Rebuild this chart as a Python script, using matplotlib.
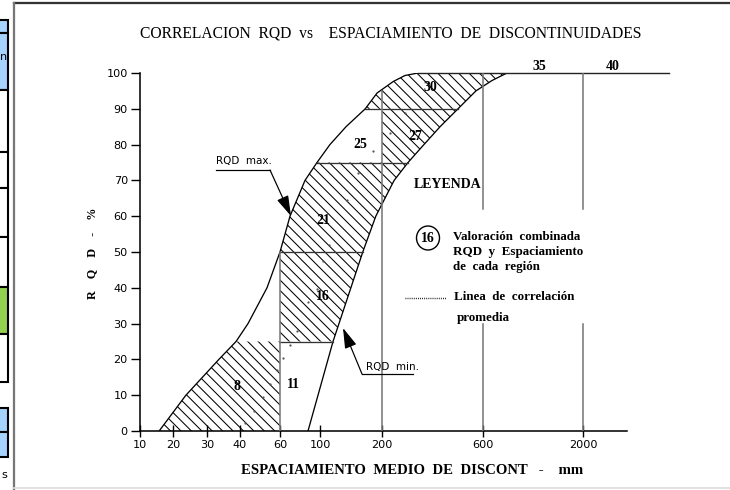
import numpy as np
import matplotlib
matplotlib.use("Agg")
import matplotlib.pyplot as plt
from matplotlib.patches import Polygon, Rectangle, Ellipse, FancyArrowPatch
from matplotlib.lines import Line2D

W, H, DPI = 730, 490, 125

# x axis of the original is neither linear nor log: tick values and where they sit (px)
x_ticks = [10, 20, 30, 40, 60, 100, 200, 600, 2000]
x_tick_px = [140, 173, 207, 240, 280, 320, 382, 483, 583]
y_ticks = list(range(0, 101, 10))

# RQD max. boundary (RQD %, spacing mm)
max_rqd = [0, 10, 20, 25, 30, 40, 50, 60, 70, 75, 80, 85, 90, 94.4, 97.6, 99.3, 100]
max_mm = [15.8, 23.8, 33.6, 38.8, 44, 53.5, 60, 70, 85, 97, 116, 142, 173, 192, 244, 291, 343]

# RQD min. boundary
min_rqd = [0, 25, 50, 60, 70, 75, 80, 85, 90, 95, 97.9, 100]
min_mm = [88, 121, 169, 190, 248, 303, 366, 430, 501, 572, 726, 936]

# average correlation line (dotted)
corr_mm = [42.5, 47, 51.5, 55, 58.5, 63, 70, 77, 88, 97, 105, 114.5, 143.5, 161, 185, 232, 291]
corr_rqd = [2.1, 5.5, 9.4, 13.1, 16.9, 20.3, 24.1, 27.9, 35.9, 39.7, 47.6, 52, 64.6, 72.1, 78.1, 83.2, 88.9]

# regions: label, rqd from, rqd to, left edge, right edge, hatched
regions = [
    ("8", 0, 25, "max", 60, True),
    ("11", 0, 25, 60, "min", False),
    ("16", 25, 50, 60, "min", True),
    ("21", 50, 75, "max", "min", True),
    ("25", 75, 90, "max", 200, False),
    ("27", 75, 90, 200, "min", True),
    ("30", 90, 100, "max", "min", True),
]
band_levels = [25, 50, 75, 90]

# where the labels were written on the drawing (px)
label_px = {"8": (237, 386), "11": (293, 384), "16": (323, 297), "21": (323, 220),
            "25": (360, 145), "27": (415, 136), "30": (430, 88),
            "35": (539, 67), "40": (613, 67)}

SERIF = "Liberation Serif"
NARROW = ["Liberation Sans Narrow", "DejaVu Sans"]
HATCH = chr(92) * 4
plt.rcParams["hatch.linewidth"] = 0.6


def fx(x):
    return x / W


def fy(y):
    return 1 - y / H


cal_mm = np.array(x_ticks, float)
cal_px = np.array(x_tick_px, float)
s_lo = (cal_px[1] - cal_px[0]) / (cal_mm[1] - cal_mm[0])
s_hi = (cal_px[-1] - cal_px[-2]) / (cal_mm[-1] - cal_mm[-2])


def fwd(v):
    v = np.asarray(v, float)
    out = np.interp(v, cal_mm, cal_px)
    out = np.where(v < cal_mm[0], cal_px[0] + (v - cal_mm[0]) * s_lo, out)
    out = np.where(v > cal_mm[-1], cal_px[-1] + (v - cal_mm[-1]) * s_hi, out)
    return out


def inv(p):
    p = np.asarray(p, float)
    out = np.interp(p, cal_px, cal_mm)
    out = np.where(p < cal_px[0], cal_mm[0] + (p - cal_px[0]) / s_lo, out)
    out = np.where(p > cal_px[-1], cal_mm[-1] + (p - cal_px[-1]) / s_hi, out)
    return out


curves = {"max": (max_rqd, max_mm), "min": (min_rqd, min_mm)}


def edge(spec, lo, hi):
    if not isinstance(spec, str):
        return [(spec, lo), (spec, hi)]
    rq, mm = curves[spec]
    pts = [(np.interp(lo, rq, mm), lo)]
    pts += [(m, r) for r, m in zip(rq, mm) if lo < r < hi]
    pts.append((np.interp(hi, rq, mm), hi))
    return pts


fig = plt.figure(figsize=(W / DPI, H / DPI), dpi=DPI)
ax = fig.add_axes([fx(140), fy(431), (627 - 140) / W, (431 - 73) / H])
ax.set_xscale("function", functions=(fwd, inv))
ax.set_xlim(10, float(inv(627)))
ax.set_ylim(0, 100)

for lab, lo, hi, le, re, hatched in regions:
    if not hatched:
        continue
    verts = edge(le, lo, hi) + edge(re, lo, hi)[::-1]
    ax.add_patch(Polygon(verts, closed=True, facecolor="none", edgecolor="black",
                         lw=0, hatch=HATCH, zorder=1))

ax.plot(max_mm, max_rqd, color="black", lw=0.75, zorder=3)
ax.plot(min_mm, min_rqd, color="black", lw=0.75, zorder=3)

for r in band_levels:
    x0 = max(60, np.interp(r, max_rqd, max_mm)) if r <= 50 else np.interp(r, max_rqd, max_mm)
    x1 = np.interp(r, min_rqd, min_mm)
    ax.plot([x0, x1], [r, r], color="#333333", lw=0.75, zorder=3)
ax.plot([max_mm[-1], 3200], [100, 100], color="#222222", lw=0.8, zorder=3, clip_on=False)

grey = "#777777"
ax.plot([60, 60], [0, 50], color=grey, lw=0.9, zorder=3)
ax.plot([200, 200], [0, np.interp(200, max_mm, max_rqd)], color=grey, lw=0.9, zorder=3)
for xv in (600, 2000):
    ax.plot([xv, xv], [0, 30], color=grey, lw=0.9, zorder=3)
    ax.plot([xv, xv], [62, 100], color=grey, lw=0.9, zorder=3)

ax.plot(corr_mm, corr_rqd, ls="none", marker="o", ms=1.3, mew=0, color="#555555", zorder=4)

for lab, (px, py) in label_px.items():
    fig.text(fx(px), fy(py), lab, ha="center", va="center", family=SERIF,
             fontweight="bold", fontsize=8)

for s in ("top", "right"):
    ax.spines[s].set_visible(False)
for s in ("left", "bottom"):
    ax.spines[s].set_linewidth(0.9)
ax.set_xticks(x_ticks)
ax.set_xticklabels([str(v) for v in x_ticks])
ax.set_yticks(y_ticks)
ax.tick_params(axis="x", direction="inout", length=7, width=0.8, pad=1.5)
ax.tick_params(axis="y", direction="out", length=5, width=0.8, pad=2)
for t in ax.get_xticklabels() + ax.get_yticklabels():
    t.set_family(NARROW)
    t.set_fontsize(6.5)

fig.text(fx(391), fy(33), "CORRELACION  RQD  vs    ESPACIAMIENTO  DE  DISCONTINUIDADES",
         ha="center", va="center", family=SERIF, fontsize=9)
fig.text(fx(412), fy(470), "ESPACIAMIENTO  MEDIO  DE  DISCONT   -    mm",
         ha="center", va="center", family=SERIF, fontweight="bold", fontsize=8.5)
fig.text(fx(92), fy(253), "R    Q    D    -    %", rotation=90, ha="center", va="center",
         family=SERIF, fontweight="bold", fontsize=7)

# arrows with captions
fig.text(fx(216), fy(161), "RQD  max.", ha="left", va="center", family=NARROW, fontsize=6)
fig.add_artist(Line2D([fx(216), fx(270)], [fy(170), fy(170)], color="black", lw=0.7))
fig.add_artist(FancyArrowPatch((fx(270), fy(170)), (fx(291), fy(216)), transform=fig.transFigure,
                               arrowstyle="-|>,head_length=10,head_width=3", mutation_scale=1,
                               color="black", lw=0.7, shrinkA=0, shrinkB=0))
fig.text(fx(366), fy(367), "RQD  min.", ha="left", va="center", family=NARROW, fontsize=6)
fig.add_artist(Line2D([fx(362), fx(413)], [fy(374), fy(374)], color="black", lw=0.7))
fig.add_artist(FancyArrowPatch((fx(362), fy(374)), (fx(343), fy(328)), transform=fig.transFigure,
                               arrowstyle="-|>,head_length=10,head_width=3", mutation_scale=1,
                               color="black", lw=0.7, shrinkA=0, shrinkB=0))

# legend
fig.text(fx(448), fy(184), "LEYENDA", ha="center", va="center", family=SERIF,
         fontweight="bold", fontsize=8)
fig.add_artist(Ellipse((fx(428), fy(238)), 23 / W, 24 / H, transform=fig.transFigure,
                       fill=False, lw=0.8, color="black"))
fig.text(fx(428), fy(238), "16", ha="center", va="center", family=SERIF,
         fontweight="bold", fontsize=8)
for i, line in enumerate(["Valoración  combinada", "RQD  y  Espaciamiento", "de  cada  región"]):
    fig.text(fx(453), fy(237 + 15 * i), line, ha="left", va="center", family=SERIF,
             fontweight="bold", fontsize=7.5)
fig.add_artist(Line2D([fx(405), fx(446)], [fy(298), fy(298)], color="black", lw=0.8,
                      ls=(0, (0.6, 0.9))))
fig.text(fx(454), fy(297), "Linea  de  correlación", ha="left", va="center", family=SERIF,
         fontweight="bold", fontsize=7.5)
fig.text(fx(457), fy(318), "promedia", ha="left", va="center", family=SERIF,
         fontweight="bold", fontsize=7.5)

# page frame and the edge of the neighbouring sheet
fig.add_artist(Line2D([fx(14), 1], [fy(3), fy(3)], color="#333333", lw=1.3))
fig.add_artist(Line2D([fx(14), fx(14)], [fy(3), 0], color="#777777", lw=1.3))
fig.add_artist(Line2D([fx(14), 1], [fy(488), fy(488)], color="#dddddd", lw=1.0))
cells = [(20, 33, "#a6d2ff"), (33, 90, "#a6d2ff"), (90, 152, "white"), (152, 188, "white"),
         (188, 237, "white"), (237, 287, "white"), (287, 334, "#92d050"), (334, 382, "white"),
         (408, 432, "#a6d2ff"), (432, 457, "#a6d2ff")]
for y0, y1, c in cells:
    fig.add_artist(Rectangle((fx(-5), fy(y1)), 12.5 / W, (y1 - y0) / H, transform=fig.transFigure,
                             facecolor=c, edgecolor="black", lw=1.2))
fig.text(fx(7), fy(57), "n", ha="right", va="center", fontsize=6.5)
fig.text(fx(7), fy(475), "s", ha="right", va="center", fontsize=6.5)

fig.savefig("out.png", dpi=DPI)
